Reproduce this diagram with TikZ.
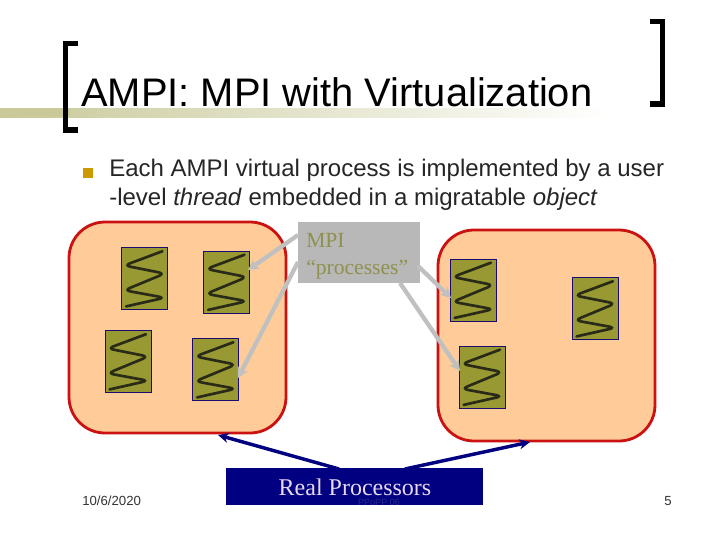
\documentclass[tikz,border=0pt]{standalone}
\usepackage{fontspec}
\setmainfont{Liberation Serif}
\newfontfamily\arialf{Liberation Sans}
\usetikzlibrary{arrows.meta}
\definecolor{stripe}{HTML}{C9C99A}
\definecolor{peach}{HTML}{FFCC99}
\definecolor{redline}{HTML}{CC1111}
\definecolor{olive}{HTML}{999933}
\definecolor{threadline}{HTML}{2A2A18}
\definecolor{threadedge}{HTML}{1A0A70}
\definecolor{grayarrow}{HTML}{C0C0C0}
\definecolor{graybox}{HTML}{B8B8B8}
\definecolor{navyblue}{HTML}{000080}
\definecolor{bullet}{HTML}{CC9900}
\definecolor{mpitext}{HTML}{909050}
\definecolor{realtext}{HTML}{EAD8F0}
\definecolor{faintfoot}{HTML}{2A2A88}
\tikzset{
  px/.style={x=0.75pt,y=-0.75pt},
  bracket/.style={draw=black,line width=3.9pt,line cap=butt,line join=miter},
  processor/.style={draw=redline,fill=peach,line width=2.1pt,rounded corners=27pt},
  threadbox/.style={draw=threadedge,fill=olive,line width=0.7pt,minimum width=34.5pt,minimum height=46.5pt,inner sep=0pt,outer sep=0pt},
  squiggle/.style={draw=threadline,line width=2pt,rounded corners=4.5pt,line cap=round},
  grayptr/.style={draw=grayarrow,line width=3.2pt,-{Stealth[length=8pt,width=8.5pt]}},
  navyptr/.style={draw=navyblue,line width=2.6pt,-{Stealth[length=8pt,width=7.5pt]}},
  titletext/.style={anchor=base west,inner sep=0pt,font=\arialf\fontsize{29.9}{32}\selectfont},
  bodytext/.style={anchor=base west,inner sep=0pt,text=black!85,font=\arialf\fontsize{18}{20}\selectfont},
  foot/.style={anchor=base west,inner sep=0pt,text=black!80,font=\arialf\fontsize{9.9}{11}\selectfont},
  mpilabel/.style={anchor=base west,inner sep=0pt,text=mpitext,font=\fontsize{16.2}{20}\selectfont},
}
\newcommand{\thread}[3]{%
  \node[threadbox] (#1) at (#2,#3) {};
  \begin{scope}[shift={(#1.north west)},x=34.5pt,y=-46.5pt]
    \draw[squiggle] (0.89,0.06) -- (0.06,0.29) -- (0.94,0.42) -- (0.06,0.69) -- (0.94,0.81) -- (0.10,0.95);
  \end{scope}
}
\begin{document}
\begin{tikzpicture}[px]
\useasboundingbox (0,0) rectangle (720,540);
\fill[white] (0,0) rectangle (720,540);
% title decoration
\shade[left color=stripe,right color=white] (0,108) rectangle (610,117);
\fill[stripe] (0,108) rectangle (70,117);
\draw[bracket] (78,43.5) -- (65.5,43.5) -- (65.5,130) -- (78,130);
\draw[bracket] (650,21.5) -- (662.5,21.5) -- (662.5,104) -- (650,104);
\node[titletext] (title) at (81,106) {AMPI: MPI with Virtualization};
% body
\node[fill=bullet,minimum size=7.5pt,inner sep=0pt] (bul) at (88,172.5) {};
\node[bodytext] (l1) at (109,176) {Each AMPI virtual process is implemented by a user};
\node[bodytext] (l2) at (109,205) {-level \textit{thread} embedded in a migratable \textit{object}};
% processors
\draw[processor] (69,222) rectangle (286,433);
\draw[processor] (438,230) rectangle (655,441);
\coordinate (procL) at (218,435);
\coordinate (procR) at (530,442);
% threads
\thread{ta}{144.5}{278.5}
\thread{tb}{226.5}{282}
\thread{tc}{128}{361.5}
\thread{td}{215.5}{369.5}
\thread{te}{473}{290}
\thread{tf}{595}{308.5}
\thread{tg}{482}{377}
% MPI box
\node[fill=graybox,minimum width=91.5pt,minimum height=45.75pt,inner sep=0pt,outer sep=0pt] (mpi) at (359,252.5) {};
\node[mpilabel] (mpit1) at (306,247) {MPI};
\node[mpilabel] (mpit2) at (306,274) {“processes”};
\coordinate (g1) at (298,235);
\coordinate (g2) at (298,262);
\coordinate (g3) at (418,266);
\coordinate (g4) at (400,283);
\coordinate (h1) at (248,270);
\coordinate (h2) at (238,378);
\coordinate (h3) at (451,298);
\coordinate (h4) at (460,371);
\draw[grayptr] (g1) -- (h1);
\draw[grayptr] (g2) -- (h2);
\draw[grayptr] (g3) -- (h3);
\draw[grayptr] (g4) -- (h4);
% Real processors
\node[fill=navyblue,minimum width=192.75pt,minimum height=27.75pt,inner sep=0pt,outer sep=0pt] (real) at (354.5,486.5) {};
\coordinate (r1) at (339,469);
\coordinate (r2) at (405,469);
\draw[navyptr] (r1) -- (procL);
\draw[navyptr] (r2) -- (procR);
\node[anchor=base,inner sep=0pt,text=faintfoot,font=\arialf\fontsize{6.8}{8}\selectfont] (foot2) at (379,505) {PPoPP 06};
\node[anchor=base,inner sep=0pt,text=realtext,font=\fontsize{18}{20}\selectfont] (realt) at (355,495) {Real Processors};
% footers
\node[foot] (date) at (82,505) {10/6/2020};
\node[foot] (pg) at (664,505) {5};
\end{tikzpicture}
\end{document}
